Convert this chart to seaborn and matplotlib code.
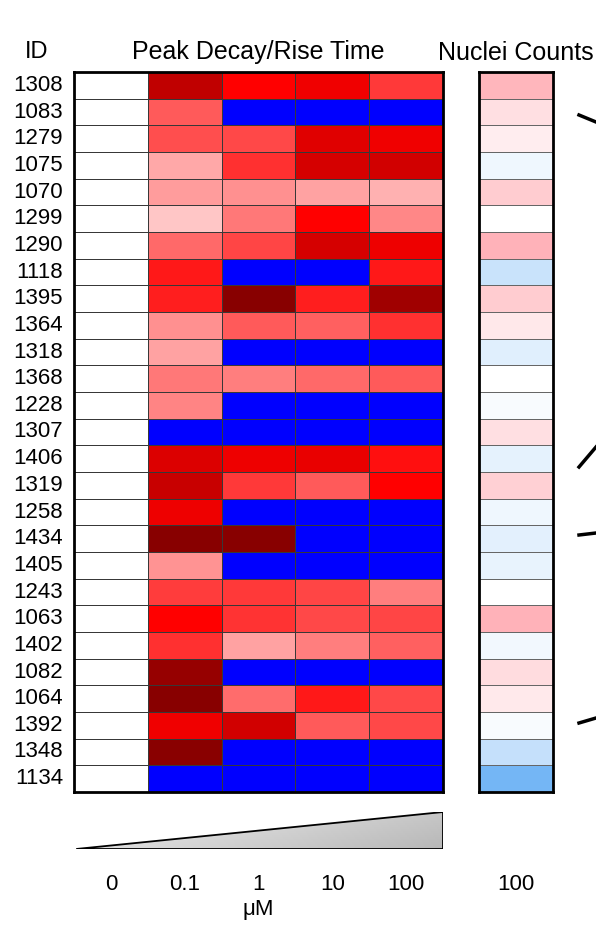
import numpy as np
import pandas as pd
import seaborn as sns
import matplotlib.pyplot as plt
from matplotlib.colors import LinearSegmentedColormap
from matplotlib.patches import Polygon
from matplotlib.lines import Line2D

# Cell IDs (rows, top to bottom)
ids = [1308, 1083, 1279, 1075, 1070, 1299, 1290, 1118, 1395, 1364, 1318, 1368, 1228,
       1307, 1406, 1319, 1258, 1434, 1405, 1243, 1063, 1402, 1082, 1064, 1392, 1348, 1134]
doses = ['0', '0.1', '1', '10', '100']

# Peak decay/rise time score: -1 = blue (no response), 0 = white, 1 = red, 2 = dark red
dose_0 = [0] * 27
dose_01 = [1.53, 0.65, 0.69, 0.34, 0.39, 0.22, 0.59, 0.9, 0.88, 0.44, 0.36, 0.53, 0.48, -1,
           1.29, 1.46, 1.14, 2.0, 0.42, 0.76, 1.0, 0.81, 1.88, 2.0, 1.13, 1.98, -1]
dose_1 = [1.0, -1, 0.72, 0.81, 0.43, 0.53, 0.73, -1, 2.0, 0.65, -1, 0.5, -1, -1,
          1.14, 0.78, -1, 2.0, -1, 0.78, 0.8, 0.37, -1, 0.58, 1.39, -1, -1]
dose_10 = [1.13, -1, 1.26, 1.35, 0.37, 1.0, 1.35, -1, 0.88, 0.62, -1, 0.59, -1, -1,
           1.19, 0.65, -1, -1, -1, 0.73, 0.72, 0.5, -1, 0.9, 0.65, -1, -1]
dose_100 = [0.78, -1, 1.13, 1.38, 0.31, 0.47, 1.14, 0.9, 1.8, 0.81, -1, 0.65, -1, -1,
            0.94, 1.0, -1, -1, -1, 0.5, 0.73, 0.62, -1, 0.72, 0.72, -1, -1]

# Nuclei counts at 100 uM (relative change, -1 blue .. 1 pink)
nuclei = [0.62, 0.27, 0.15, -0.11, 0.43, 0.0, 0.65, -0.39, 0.43, 0.2, -0.22, 0.0, -0.05,
          0.27, -0.18, 0.4, -0.11, -0.2, -0.17, 0.0, 0.65, -0.09, 0.3, 0.18, -0.05, -0.42, -1]

df = pd.DataFrame({'0': dose_0, '0.1': dose_01, '1': dose_1, '10': dose_10, '100': dose_100},
                  index=ids)
df_n = pd.DataFrame({'100': nuclei}, index=ids)

plt.rcParams['font.family'] = ['Liberation Sans', 'DejaVu Sans']

cmap = LinearSegmentedColormap.from_list(
    'peak', [(0, '#0000ff'), (1 / 3, '#ffffff'), (2 / 3, '#ff0000'), (1, '#880000')])
cmap_n = LinearSegmentedColormap.from_list('nuc', ['#74b6f5', '#ffffff', '#ff8a94'])

W, H = 596, 925


def px(x0, y0, x1, y1):
    return [x0 / W, 1 - y1 / H, (x1 - x0) / W, (y1 - y0) / H]


fig = plt.figure(figsize=(W / 100, H / 100), dpi=100)
ax = fig.add_axes(px(74, 72, 443, 792))
axn = fig.add_axes(px(479, 72, 553, 792))
axw = fig.add_axes(px(74, 812, 443, 849))

# main heatmap
sns.heatmap(df, ax=ax, cmap=cmap, vmin=-1, vmax=2, cbar=False,
            linewidths=0.7, linecolor='#383838', xticklabels=False, yticklabels=ids)
ax.tick_params(length=0, labelsize=16, pad=8)
ax.set_yticklabels(ids, rotation=0)
for s in ax.spines.values():
    s.set_visible(True)
    s.set_linewidth(2)
    s.set_color('black')
ax.set_title('Peak Decay/Rise Time', fontsize=18, pad=9)
ax.set_ylabel('')
fig.text(37 / W, 1 - 58 / H, 'ID', ha='center', va='baseline', fontsize=17)

# nuclei heatmap
sns.heatmap(df_n, ax=axn, cmap=cmap_n, vmin=-1, vmax=1, cbar=False,
            linewidths=0.7, linecolor='#666666', xticklabels=['100'], yticklabels=False)
axn.tick_params(length=0, labelsize=16, pad=59)
for s in axn.spines.values():
    s.set_visible(True)
    s.set_linewidth(2)
    s.set_color('black')
axn.set_title('Nuclei Counts', fontsize=18, pad=9)
axn.set_ylabel('')

# concentration wedge
axw.set_xlim(0, 5)
axw.set_ylim(0, 1)
wedge = Polygon([(0.03, 0), (5, 0), (5, 1)], closed=True, facecolor='none',
                edgecolor='black', lw=1.3, zorder=3)
axw.add_patch(wedge)
gx = np.linspace(0.94, 0.78, 200)
gy = np.linspace(0.0, 0.06, 20)[:, None]
grad = gx[None, :] - gy
img = axw.imshow(grad, extent=(0, 5, 0, 1), cmap='gray', vmin=0, vmax=1,
                 aspect='auto', origin='upper', zorder=2)
img.set_clip_path(wedge)
for s in axw.spines.values():
    s.set_visible(False)
axw.set_yticks([])
axw.set_xticks(np.arange(5) + 0.5)
axw.set_xticklabels(doses)
axw.tick_params(length=0, labelsize=16, pad=18)
axw.set_xlabel('μM', fontsize=16, labelpad=3)

# clipped bracket lines at the right edge
for (x0, y0), (x1, y1) in [((579, 115), (596, 122)), ((579, 467), (596, 447)),
                           ((579, 535), (596, 533)), ((579, 723), (596, 718))]:
    fig.add_artist(Line2D([x0 / W, x1 / W], [1 - y0 / H, 1 - y1 / H],
                          transform=fig.transFigure, color='black', lw=2.5))

fig.savefig('out.png', dpi=100)
